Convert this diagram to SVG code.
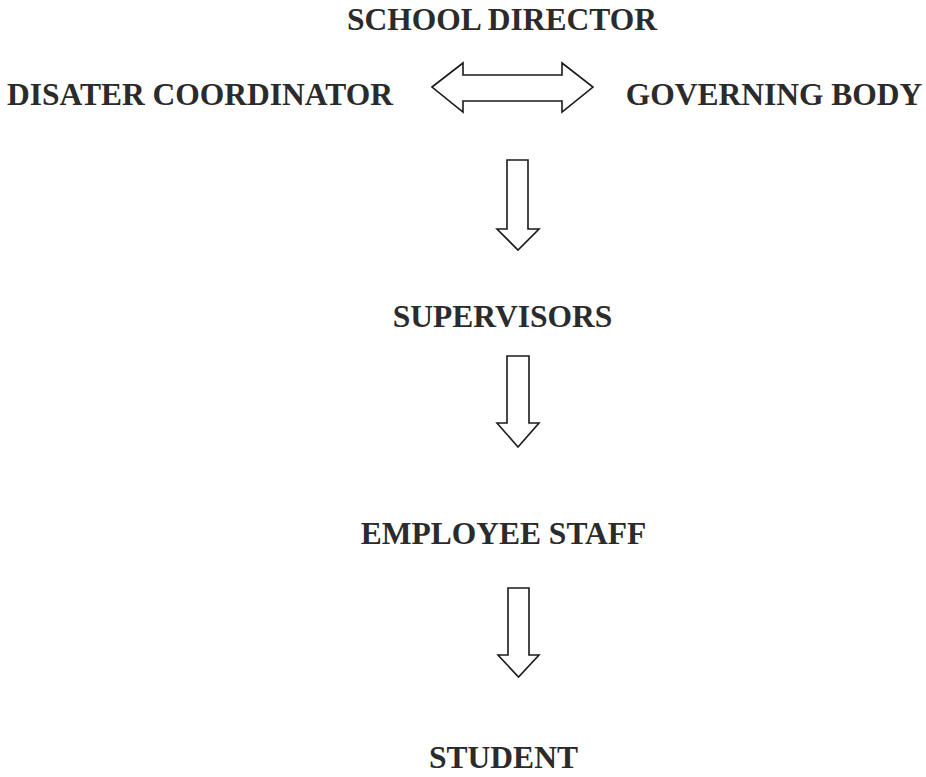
<svg xmlns="http://www.w3.org/2000/svg" width="926" height="777" viewBox="0 0 926 777">
<style>
.t{font-family:"Liberation Serif","Times New Roman",serif;font-weight:bold;font-size:31.5px;fill:#2b2b2b;text-anchor:middle}
.a{fill:#fff;stroke:#1a1a1a;stroke-width:1.6;stroke-linejoin:miter}
</style>
<rect width="926" height="777" fill="#fff"/>
<g id="school-director"><text class="t" x="502" y="30">SCHOOL DIRECTOR</text></g>
<g id="disaster-coordinator"><text class="t" x="200" y="105">DISATER COORDINATOR</text></g>
<g id="governing-body"><text class="t" x="774" y="105">GOVERNING BODY</text></g>
<g id="supervisors"><text class="t" x="502.5" y="327">SUPERVISORS</text></g>
<g id="employee-staff"><text class="t" x="503.5" y="544">EMPLOYEE STAFF</text></g>
<g id="student"><text class="t" x="503.5" y="768">STUDENT</text></g>
<g id="connectors">
<path class="a" d="M432,87 L463,63 L463,75 L562,75 L562,63 L593,87 L562,112 L562,101 L463,101 L463,112 Z"/>
<path class="a" d="M507,160 L528,160 L528,229 L539,229 L518,250 L497,229 L507,229 Z"/>
<path class="a" d="M507,356 L529,356 L529,423 L539,423 L518,447 L497,423 L507,423 Z"/>
<path class="a" d="M508,588 L529,588 L529,655 L539,655 L518.5,677 L498,655 L508,655 Z"/>
</g>
</svg>
